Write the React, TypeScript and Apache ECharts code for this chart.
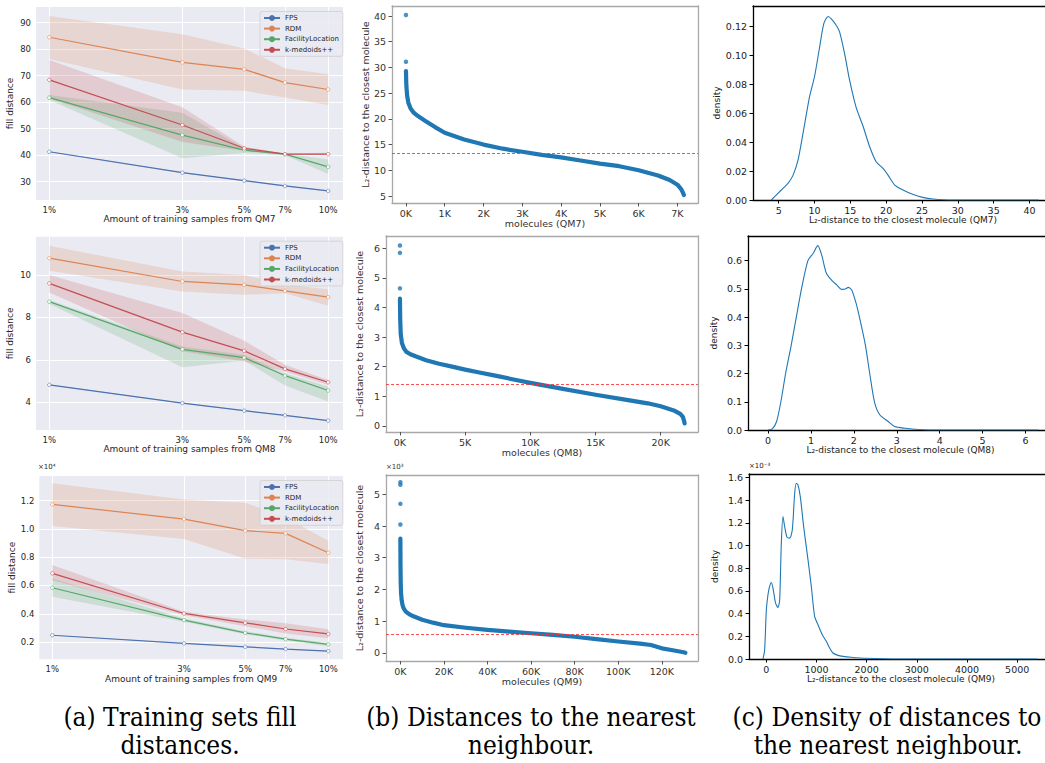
import React, { useEffect, useRef } from 'react';
import * as echarts from 'echarts';

// ---------- (a) fill distances ----------
const pctTicks = [1, 3, 5, 7, 10];
const methods = ['FPS', 'RDM', 'FacilityLocation', 'k-medoids++'];
const methodColors = ['#4C72B0', '#DD8452', '#55A868', '#C44E52'];

// order: FPS, RDM, FacilityLocation, k-medoids++
const qm7Mean = [
  [41.3, 33.4, 30.4, 28.4, 26.5],
  [84.5, 75.0, 72.4, 67.4, 64.8],
  [61.7, 47.6, 41.9, 40.4, 35.6],
  [68.4, 51.4, 42.6, 40.4, 40.4],
];
const qm7Low = [
  [41.1, 33.2, 30.2, 28.2, 26.3],
  [76.3, 64.8, 64.3, 61.8, 58.9],
  [60.8, 38.8, 40.8, 40.0, 32.9],
  [61.4, 45.0, 41.6, 40.2, 40.0],
];
const qm7High = [
  [41.5, 33.6, 30.6, 28.6, 26.7],
  [92.5, 85.6, 80.3, 72.8, 70.5],
  [62.7, 56.0, 42.6, 40.7, 38.4],
  [75.9, 58.1, 43.2, 40.6, 40.9],
];

const qm8Mean = [
  [4.82, 3.96, 3.6, 3.38, 3.13],
  [10.79, 9.69, 9.53, 9.25, 8.95],
  [8.74, 6.49, 6.1, 5.25, 4.55],
  [9.6, 7.3, 6.42, 5.57, 4.94],
];
const qm8Low = [
  [4.8, 3.94, 3.58, 3.36, 3.11],
  [10.2, 9.22, 9.06, 9.14, 8.54],
  [8.63, 5.65, 5.97, 4.79, 4.03],
  [9.17, 6.4, 5.92, 5.45, 4.82],
];
const qm8High = [
  [4.84, 3.98, 3.62, 3.4, 3.15],
  [11.37, 10.16, 10.0, 9.53, 9.32],
  [8.82, 6.62, 6.22, 5.35, 4.74],
  [10.0, 8.2, 6.9, 5.76, 5.05],
];

const qm9Mean = [
  [2480, 1900, 1660, 1500, 1350],
  [11740, 10700, 9880, 9690, 8320],
  [5840, 3550, 2650, 2200, 1830],
  [6860, 4020, 3360, 2920, 2570],
];
const qm9Low = [
  [2460, 1880, 1640, 1480, 1330],
  [10210, 9290, 7900, 7860, 7530],
  [5200, 3430, 2550, 2100, 1700],
  [6380, 3900, 3120, 2600, 2260],
];
const qm9High = [
  [2500, 1920, 1680, 1520, 1370],
  [13230, 12090, 11860, 10820, 9170],
  [6500, 3670, 2770, 2300, 1950],
  [7450, 4140, 3600, 3320, 2900],
];

// ---------- (b) nearest-neighbour distances (sorted) ----------
const qm7Idx = [0, 10, 30, 60, 120, 200, 300, 500, 750, 1000, 1500, 2000, 2500, 3000, 3500, 4000, 4500, 5000, 5500, 6000, 6500, 6800, 7000, 7100, 7150, 7165];
const qm7Dist = [29.3, 26.5, 24.5, 23.2, 22.0, 21.2, 20.6, 19.6, 18.4, 17.3, 16.0, 15.0, 14.2, 13.6, 13.0, 12.5, 11.9, 11.3, 10.8, 10.0, 9.0, 8.1, 7.2, 6.3, 5.5, 5.2];
const qm7OutIdx = [0, 0];
const qm7OutDist = [40.2, 31.1];
const qm7Threshold = 13.25;

const qm8Idx = [0, 20, 60, 150, 300, 500, 800, 1200, 2000, 3000, 4000, 5000, 6000, 7500, 9000, 10000, 12500, 15000, 17500, 19000, 20000, 21000, 21500, 21700, 21800, 21830];
const qm8Dist = [4.3, 3.6, 3.1, 2.8, 2.62, 2.5, 2.42, 2.35, 2.22, 2.1, 2.0, 1.9, 1.81, 1.68, 1.54, 1.45, 1.25, 1.05, 0.87, 0.76, 0.66, 0.52, 0.4, 0.3, 0.15, 0.08];
const qm8OutIdx = [0, 0, 0];
const qm8OutDist = [6.1, 5.85, 4.65];
const qm8Threshold = 1.42;

const qm9Idx = [0, 50, 150, 300, 600, 1000, 1500, 2500, 4000, 6000, 10000, 15000, 20000, 30000, 40000, 50000, 60000, 70000, 80000, 90000, 100000, 110000, 115000, 120000, 125000, 130000, 130800];
const qm9Dist = [3600, 2800, 2200, 1900, 1650, 1500, 1400, 1300, 1220, 1150, 1040, 950, 870, 790, 720, 670, 615, 565, 505, 430, 355, 290, 245, 140, 80, 15, 0];
const qm9OutIdx = [0, 0, 0, 0];
const qm9OutDist = [5380, 5300, 4700, 4050];
const qm9Threshold = 590;

// ---------- (c) density ----------
const kde7X = [3.98, 4.44, 5.37, 6.3, 7.0, 7.7, 8.4, 9.3, 10.0, 10.7, 11.3, 11.9, 12.35, 13.05, 13.5, 14.2, 14.9, 15.8, 16.8, 17.7, 18.6, 19.56, 20.26, 21.2, 22.35, 23.7, 25.1, 26.5, 29.3, 35, 41.3];
const kde7Y = [0, 0.0023, 0.0069, 0.0115, 0.017, 0.0275, 0.046, 0.071, 0.085, 0.105, 0.1216, 0.1266, 0.125, 0.1204, 0.116, 0.101, 0.0826, 0.064, 0.0505, 0.0367, 0.0264, 0.0218, 0.0172, 0.0103, 0.0069, 0.0039, 0.0018, 0.0007, 0, 0, 0];

const kde8X = [0, 0.1, 0.2, 0.3, 0.41, 0.54, 0.66, 0.78, 0.93, 1.05, 1.16, 1.25, 1.36, 1.48, 1.6, 1.72, 1.8, 1.87, 1.95, 2.05, 2.13, 2.27, 2.37, 2.48, 2.6, 2.8, 2.95, 3.2, 3.5, 4.0, 5.0, 6.3];
const kde8Y = [0, 0.004, 0.03, 0.1, 0.2, 0.3, 0.4, 0.5, 0.6, 0.625, 0.653, 0.62, 0.555, 0.531, 0.514, 0.498, 0.499, 0.505, 0.496, 0.45, 0.4, 0.3, 0.2, 0.1, 0.055, 0.03, 0.012, 0.006, 0.002, 0, 0, 0];

const kde9X = [-66, -33, 0, 33, 66, 100, 133, 186, 233, 266, 299, 332, 365, 412, 465, 518, 565, 598, 631, 678, 744, 831, 897, 963, 1030, 1116, 1196, 1262, 1329, 1429, 1528, 1694, 1993, 2658, 4000, 5400];
const kde9Y = [0, 0.000082, 0.00043, 0.000567, 0.00064, 0.000675, 0.000625, 0.00049, 0.000455, 0.00052, 0.00102, 0.001257, 0.00117, 0.001075, 0.001066, 0.00114, 0.00146, 0.00155, 0.001536, 0.00143, 0.00117, 0.000875, 0.00064, 0.000376, 0.000302, 0.000214, 0.000156, 0.000097, 0.000053, 0.000032, 0.000023, 0.000015, 0.000006, 0, 0, 0];

const FONT = 'DejaVu Sans';
const CAP_FONT = '"DejaVu Serif Condensed", "Liberation Serif", serif';
const BLUE = '#1f77b4';

export default function App() {
  const ref = useRef<HTMLDivElement>(null);
  useEffect(() => {
    if (!ref.current) return;
    const chart = echarts.init(ref.current, undefined, { renderer: 'svg' });

    const grid: any[] = [];
    const xAxis: any[] = [];
    const yAxis: any[] = [];
    const series: any[] = [];
    const legend: any[] = [];

    const spine = (kind: 'x' | 'y', gi: number, pos: string, color: string, width: number, min: number, max: number) => {
      const ax: any = {
        type: 'value', gridIndex: gi, position: pos, min, max,
        axisLine: { show: true, onZero: false, lineStyle: { color, width } },
        axisTick: { show: false }, axisLabel: { show: false }, splitLine: { show: false },
      };
      (kind === 'x' ? xAxis : yAxis).push(ax);
    };

    // ---- column (a)
    const fillPanels = [
      { left: 36, top: 7, width: 307, height: 193, xMin: 0.896, xMax: 11.3, yMin: 23.09, yMax: 95.92, yTicks: [30, 40, 50, 60, 70, 80, 90], fmt: (v: number) => String(v), name: 'Amount of training samples from QM7', mean: qm7Mean, low: qm7Low, high: qm7High },
      { left: 36, top: 236.7, width: 307, height: 193.3, xMin: 0.896, xMax: 11.3, yMin: 2.69, yMax: 11.8, yTicks: [4, 6, 8, 10], fmt: (v: number) => String(v), name: 'Amount of training samples from QM8', mean: qm8Mean, low: qm8Low, high: qm8High },
      { left: 39.3, top: 476, width: 303.7, height: 183.3, xMin: 0.897, xMax: 11.3, yMin: 776, yMax: 13750, yTicks: [2000, 4000, 6000, 8000, 10000, 12000], fmt: (v: number) => (v / 10000).toFixed(1), name: 'Amount of training samples from QM9', mean: qm9Mean, low: qm9Low, high: qm9High },
    ];
    fillPanels.forEach((p) => {
      const gi = grid.length;
      grid.push({ left: p.left, top: p.top, width: p.width, height: p.height, show: true, backgroundColor: '#EAEAF2', borderWidth: 0, outerBoundsMode: 'none', containLabel: false });
      const xi = xAxis.length;
      xAxis.push({
        type: 'log', logBase: 10, gridIndex: gi, min: p.xMin, max: p.xMax,
        axisLine: { show: false, onZero: false },
        axisTick: { show: false, customValues: pctTicks },
        axisLabel: { customValues: pctTicks, formatter: (v: number) => v + '%', color: '#262626', fontSize: 8.5, margin: 5, fontFamily: FONT },
        splitLine: { show: true, lineStyle: { color: '#ffffff', width: 1 } },
        name: p.name, nameLocation: 'middle', nameGap: 13,
        nameTextStyle: { color: '#262626', fontSize: 9, fontFamily: FONT },
      });
      const yi = yAxis.length;
      yAxis.push({
        type: 'value', gridIndex: gi, min: p.yMin, max: p.yMax,
        axisLine: { show: false, onZero: false },
        axisTick: { show: false, customValues: p.yTicks },
        axisLabel: { customValues: p.yTicks, formatter: p.fmt, color: '#262626', fontSize: 8.5, margin: 5, fontFamily: FONT },
        splitLine: { show: true, lineStyle: { color: '#ffffff', width: 1 } },
        name: 'fill distance', nameLocation: 'middle', nameGap: 22,
        nameTextStyle: { color: '#262626', fontSize: 9, fontFamily: FONT },
      });
      methods.forEach((m, k) => {
        const low = p.low[k];
        const high = p.high[k];
        series.push({
          type: 'custom', name: m + ' band', xAxisIndex: xi, yAxisIndex: yi, z: 1, silent: true,
          data: pctTicks.map((x, i) => [x, low[i], high[i]]),
          encode: { x: 0, y: [1, 2] },
          renderItem: (params: any, api: any) => {
            if (params.dataIndex !== 0) return null;
            const pts: number[][] = [];
            for (let i = 0; i < pctTicks.length; i++) pts.push(api.coord([pctTicks[i], high[i]]));
            for (let i = pctTicks.length - 1; i >= 0; i--) pts.push(api.coord([pctTicks[i], low[i]]));
            return { type: 'polygon', shape: { points: pts }, style: { fill: methodColors[k], opacity: 0.2 } };
          },
        });
      });
      methods.forEach((m, k) => {
        series.push({
          type: 'line', name: m, xAxisIndex: xi, yAxisIndex: yi, z: 3,
          data: pctTicks.map((x, i) => [x, p.mean[k][i]]),
          lineStyle: { color: methodColors[k], width: 1.2 },
          symbol: 'circle', symbolSize: 3.5, showSymbol: true,
          itemStyle: { color: '#ffffff', borderColor: methodColors[k], borderWidth: 0.6 },
        });
      });
      legend.push({
        data: methods.map((m, k) => ({ name: m, itemStyle: { color: methodColors[k], borderColor: methodColors[k] } })),
        orient: 'vertical', left: 260, top: p.top + 4.5,
        itemWidth: 16, itemHeight: 5, itemGap: 3.6,
        padding: [3, 4, 3, 3],
        backgroundColor: 'rgba(234,234,242,0.85)', borderColor: '#cccccc', borderWidth: 0.7, borderRadius: 2,
        textStyle: { fontSize: 7, color: '#262626', fontFamily: FONT },
        selectedMode: false,
      });
    });

    // ---- column (b)
    const nnPanels = [
      { left: 392, top: 6, width: 306, height: 197, xMin: -360, xMax: 7530, xTicks: [0, 1000, 2000, 3000, 4000, 5000, 6000, 7000], yMin: 3.64, yMax: 41.95, yTicks: [5, 10, 15, 20, 25, 30, 35, 40], yFmt: (v: number) => String(v), name: 'molecules (QM7)', idx: qm7Idx, dist: qm7Dist, oi: qm7OutIdx, od: qm7OutDist, thr: qm7Threshold },
      { left: 386, top: 236, width: 312, height: 196, xMin: -1070, xMax: 22860, xTicks: [0, 5000, 10000, 15000, 20000], yMin: -0.21, yMax: 6.42, yTicks: [0, 1, 2, 3, 4, 5, 6], yFmt: (v: number) => String(v), name: 'molecules (QM8)', idx: qm8Idx, dist: qm8Dist, oi: qm8OutIdx, od: qm8OutDist, thr: qm8Threshold },
      { left: 386, top: 475, width: 312, height: 186, xMin: -6600, xMax: 136600, xTicks: [0, 20000, 40000, 60000, 80000, 100000, 120000], yMin: -260, yMax: 5610, yTicks: [0, 1000, 2000, 3000, 4000, 5000], yFmt: (v: number) => String(v / 1000), name: 'molecules (QM9)', idx: qm9Idx, dist: qm9Dist, oi: qm9OutIdx, od: qm9OutDist, thr: qm9Threshold },
    ];
    const SPINE_B = '#a8a8a8';
    nnPanels.forEach((p) => {
      const gi = grid.length;
      grid.push({ left: p.left, top: p.top, width: p.width, height: p.height, show: false, outerBoundsMode: 'none', containLabel: false });
      const xi = xAxis.length;
      xAxis.push({
        type: 'value', gridIndex: gi, position: 'bottom', min: p.xMin, max: p.xMax,
        axisLine: { show: true, onZero: false, lineStyle: { color: SPINE_B, width: 1.3 } },
        axisTick: { show: true, customValues: p.xTicks, length: 3.5, lineStyle: { color: '#555' } },
        axisLabel: { customValues: p.xTicks, formatter: (v: number) => v / 1000 + 'K', color: '#333', fontSize: 9.5, margin: 5, fontFamily: FONT },
        splitLine: { show: false },
        name: p.name, nameLocation: 'middle', nameGap: 15,
        nameTextStyle: { color: '#333', fontSize: 9.5, fontFamily: FONT },
      });
      const yi = yAxis.length;
      yAxis.push({
        type: 'value', gridIndex: gi, position: 'left', min: p.yMin, max: p.yMax,
        axisLine: { show: true, onZero: false, lineStyle: { color: SPINE_B, width: 1.3 } },
        axisTick: { show: true, customValues: p.yTicks, length: 3.5, lineStyle: { color: '#555' } },
        axisLabel: { customValues: p.yTicks, formatter: p.yFmt, color: '#333', fontSize: 9.5, margin: 6, fontFamily: FONT },
        splitLine: { show: false },
        name: 'L₂-distance to the closest molecule', nameLocation: 'middle', nameGap: 22,
        nameTextStyle: { color: '#333', fontSize: 9.5, fontFamily: FONT },
      });
      spine('x', gi, 'top', SPINE_B, 1.3, p.xMin, p.xMax);
      spine('y', gi, 'right', SPINE_B, 1.3, p.yMin, p.yMax);
      series.push({
        type: 'line', name: 'nn' + gi, xAxisIndex: xi, yAxisIndex: yi, z: 3,
        data: p.idx.map((x, i) => [x, p.dist[i]]),
        showSymbol: false, symbol: 'none',
        lineStyle: { color: BLUE, width: 4.2, cap: 'round', join: 'round' },
        markLine: {
          silent: true, symbol: 'none', label: { show: false },
          lineStyle: { color: '#ff3030', type: [3, 2], width: 1, opacity: 0.85 },
          data: [{ yAxis: p.thr }],
        },
      });
      series.push({
        type: 'scatter', name: 'out' + gi, xAxisIndex: xi, yAxisIndex: yi, z: 3,
        data: p.oi.map((x, i) => [x, p.od[i]]),
        symbolSize: 4.5, itemStyle: { color: BLUE },
      });
    });

    // ---- column (c)
    const kdePanels = [
      { left: 753, top: 6, width: 300, height: 194, xMin: 1.42, xMax: 43.28, xTicks: [5, 10, 15, 20, 25, 30, 35, 40], xFmt: (v: number) => String(v), yMin: 0, yMax: 0.1338, yTicks: [0, 0.02, 0.04, 0.06, 0.08, 0.1, 0.12], yFmt: (v: number) => v.toFixed(2), name: 'L₂-distance to the closest molecule (QM7)', xs: kde7X, ys: kde7Y },
      { left: 748, top: 236, width: 305, height: 194, xMin: -0.466, xMax: 6.64, xTicks: [0, 1, 2, 3, 4, 5, 6], xFmt: (v: number) => String(v), yMin: 0, yMax: 0.687, yTicks: [0, 0.1, 0.2, 0.3, 0.4, 0.5, 0.6], yFmt: (v: number) => v.toFixed(1), name: 'L₂-distance to the closest molecule (QM8)', xs: kde8X, ys: kde8Y },
      { left: 749, top: 474, width: 304, height: 185, xMin: -345, xMax: 5714, xTicks: [0, 1000, 2000, 3000, 4000, 5000], xFmt: (v: number) => String(v), yMin: 0, yMax: 0.001632, yTicks: [0, 0.0002, 0.0004, 0.0006, 0.0008, 0.001, 0.0012, 0.0014, 0.0016], yFmt: (v: number) => (v * 1000).toFixed(1), name: 'L₂-distance to the closest molecule (QM9)', xs: kde9X, ys: kde9Y },
    ];
    kdePanels.forEach((p) => {
      const gi = grid.length;
      grid.push({ left: p.left, top: p.top, width: p.width, height: p.height, show: false, outerBoundsMode: 'none', containLabel: false });
      const xi = xAxis.length;
      xAxis.push({
        type: 'value', gridIndex: gi, position: 'bottom', min: p.xMin, max: p.xMax,
        axisLine: { show: true, onZero: false, lineStyle: { color: '#000', width: 1.3 } },
        axisTick: { show: true, customValues: p.xTicks, length: 3.5, lineStyle: { color: '#000' } },
        axisLabel: { customValues: p.xTicks, formatter: p.xFmt, color: '#222', fontSize: 9.5, margin: 5, fontFamily: FONT },
        splitLine: { show: false },
        name: p.name, nameLocation: 'middle', nameGap: 15,
        nameTextStyle: { color: '#222', fontSize: 9, fontFamily: FONT },
      });
      const yi = yAxis.length;
      yAxis.push({
        type: 'value', gridIndex: gi, position: 'left', min: p.yMin, max: p.yMax,
        axisLine: { show: true, onZero: false, lineStyle: { color: '#000', width: 1.3 } },
        axisTick: { show: true, customValues: p.yTicks, length: 3.5, lineStyle: { color: '#000' } },
        axisLabel: { customValues: p.yTicks, formatter: p.yFmt, color: '#222', fontSize: 9.5, margin: 6, fontFamily: FONT },
        splitLine: { show: false },
        name: 'density', nameLocation: 'middle', nameGap: 30,
        nameTextStyle: { color: '#222', fontSize: 9, fontFamily: FONT },
      });
      spine('x', gi, 'top', '#000', 1.3, p.xMin, p.xMax);
      series.push({
        type: 'line', name: 'kde' + gi, xAxisIndex: xi, yAxisIndex: yi, z: 3,
        data: p.xs.map((x, i) => [x, p.ys[i]]),
        showSymbol: false, symbol: 'none', smooth: 0.25,
        lineStyle: { color: BLUE, width: 1.1 },
      });
    });

    const cap = (text: string, x: number, y: number) => ({
      type: 'text', x, y,
      style: { text, fontSize: 26, fill: '#000', fontFamily: CAP_FONT, align: 'center', verticalAlign: 'middle' },
    });
    const graphic: any[] = [
      { type: 'text', left: 38, top: 463, style: { text: '×10⁴', fontSize: 7, fill: '#262626', fontFamily: FONT } },
      { type: 'text', left: 386, top: 463, style: { text: '×10³', fontSize: 7, fill: '#333', fontFamily: FONT } },
      { type: 'text', left: 749, top: 462, style: { text: '×10⁻³', fontSize: 7, fill: '#222', fontFamily: FONT } },
      cap('(a) Training sets fill', 180, 717),
      cap('distances.', 180, 745),
      cap('(b) Distances to the nearest', 531, 717),
      cap('neighbour.', 531, 745),
      cap('(c) Density of distances to', 887, 717),
      cap('the nearest neighbour.', 888, 745),
    ];

    chart.setOption({
      animation: false,
      backgroundColor: '#ffffff',
      textStyle: { fontFamily: FONT },
      grid, xAxis, yAxis, series, legend, graphic,
    });
    return () => chart.dispose();
  }, []);
  return <div ref={ref} style={{ position: 'fixed', left: 0, top: 0, width: 1045, height: 763 }} />;
}
